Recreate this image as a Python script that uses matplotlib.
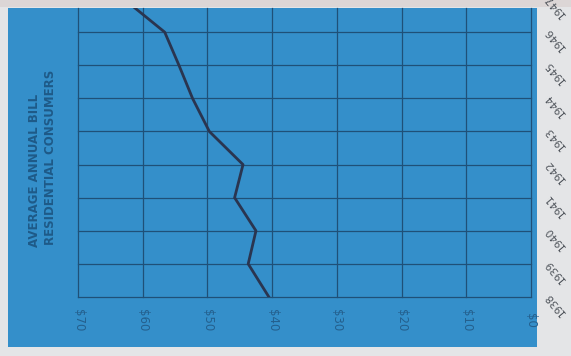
import matplotlib
matplotlib.use("Agg")
import matplotlib.pyplot as plt
from matplotlib.patches import Rectangle
import matplotlib.transforms as mtransforms

years = [1938, 1939, 1940, 1941, 1942, 1943, 1944, 1945, 1946, 1947]
avg_bill = [40.5, 43.7, 42.5, 45.8, 44.5, 49.7, 52.3, 54.4, 56.6, 62.9]
dollar_ticks = [70, 60, 50, 40, 30, 20, 10, 0]
dollar_labels = ["$70", "$60", "$50", "$40", "$30", "$20", "$10", "$0"]
year_labels = ["1938", "1939", "1940", "1941", "1942", "1943", "1944", "1945", "1946", "1947"]
title_lines = ["AVERAGE ANNUAL BILL", "RESIDENTIAL CONSUMERS"]

W, H = 571, 356
fig = plt.figure(figsize=(W / 100, H / 100), dpi=100)
fig.patch.set_facecolor("#e4e5e7")

def fx(px):
    return px / W

def fy(py):
    return 1 - py / H

# blue panel
panel_col = "#348fca"
fig.patches.append(Rectangle((fx(8), fy(347)), fx(537) - fx(8), fy(8) - fy(347),
                             transform=fig.transFigure, facecolor=panel_col,
                             edgecolor="none", zorder=-5))
# top light strip
fig.patches.append(Rectangle((0, fy(7)), 1, 1 - fy(7), transform=fig.transFigure,
                             facecolor="#dcd6d6", edgecolor="none", zorder=-5))

ax = fig.add_axes([fx(78), fy(297), fx(531) - fx(78), fy(8) - fy(297)])
ax.set_zorder(1)
ax.set_facecolor("none")
ax.set_xlim(70, 0)
ax.set_ylim(1938, 1946.73)
for s in ax.spines.values():
    s.set_visible(False)
ax.set_xticks(dollar_ticks)
ax.set_yticks(years[:-1])
ax.tick_params(length=0, labelbottom=False, labelleft=False)
grid_col = "#1f5078"
ax.grid(True, color=grid_col, linewidth=0.9)
for gl in ax.get_xgridlines() + ax.get_ygridlines():
    gl.set_clip_on(False)

ax.plot(avg_bill, years, color="#2a3550", linewidth=2.0, solid_joinstyle="round", zorder=3)

# dollar labels
trans_x = mtransforms.blended_transform_factory(ax.transData, fig.transFigure)
for v, lab in zip(dollar_ticks, dollar_labels):
    ax.text(v, fy(320), lab, transform=trans_x, rotation=-90, ha="center", va="center",
            fontsize=8.5, color="#24608e", clip_on=False)

# year labels (right side, slanted)
trans_y = mtransforms.blended_transform_factory(fig.transFigure, ax.transData)
for yv, lab in zip(years, year_labels):
    ax.text(fx(555), yv - 0.2, lab, transform=trans_y, rotation=130, ha="center", va="center",
            fontsize=7.5, color="#4e535a", clip_on=False, rotation_mode="anchor")

# title
fig.text(fx(35), fy(247), title_lines[0], rotation=90, ha="center", va="bottom",
         fontsize=8.5, fontweight="bold", color="#1e5a88", family="DejaVu Sans")
fig.text(fx(51), fy(245), title_lines[1], rotation=90, ha="center", va="bottom",
         fontsize=8.5, fontweight="bold", color="#1e5a88", family="DejaVu Sans")

fig.savefig("out.png", dpi=100)
